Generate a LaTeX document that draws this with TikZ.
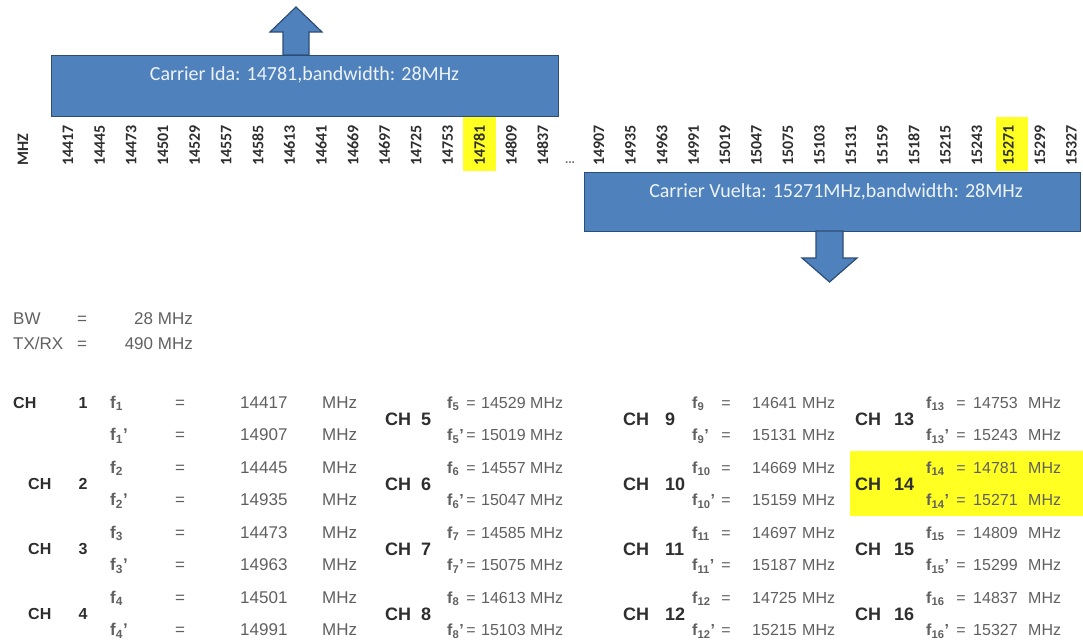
\documentclass[tikz,border=0pt]{standalone}
\usepackage{fontspec}
\setmainfont{Liberation Sans}
\newfontfamily\calib{Carlito}
\definecolor{boxblue}{HTML}{4F81BD}
\definecolor{boxedge}{HTML}{2C4D75}
\definecolor{hl}{HTML}{FFFF22}
\definecolor{txtgray}{HTML}{606060}
\definecolor{chgray}{HTML}{2E2E2E}
\newcommand{\fq}[1]{\textbf{f}\textsubscript{\textbf{#1}}}
\newcommand{\fqp}[1]{\textbf{f}\textsubscript{\textbf{#1}}\textbf{'}}
\begin{document}
\begin{tikzpicture}[x=1pt,y=-1pt,
  carrier/.style={draw=boxedge, fill=boxblue, line width=1.2pt},
  boxtext/.style={font=\calib\fontsize{20}{22}\selectfont, text=white!90!boxblue, inner sep=0},
  freqlbl/.style={font=\calib\bfseries\fontsize{16}{16}\selectfont, rotate=90, anchor=west, inner sep=0, text=black!82},
  hlbox/.style={fill=hl, draw=none},
  tsmall/.style={font=\fontsize{17}{17}\selectfont, text=txtgray, inner sep=0},
  tnorm/.style={font=\fontsize{16}{16}\selectfont, text=txtgray, inner sep=0},
  chsmall/.style={font=\bfseries\fontsize{16}{16}\selectfont, text=chgray, inner sep=0},
  chbig/.style={font=\bfseries\fontsize{18}{18}\selectfont, text=chgray, inner sep=0}
]
\useasboundingbox (0,0) rectangle (1083,640);

% ---------- carrier boxes and arrows ----------
\draw[carrier] (283,55) -- (283,32) -- (270,32) -- (296,7) -- (322,32) -- (309,32) -- (309,55) -- cycle;
\node[carrier, anchor=north west, minimum width=507pt, minimum height=61pt, inner sep=0] (ida) at (51,55) {};
\node[boxtext] (idatxt) at (304.5,75) {Carrier Ida: 14781,bandwidth: 28MHz};

\node[carrier, anchor=north west, minimum width=496pt, minimum height=59pt, inner sep=0] (vuelta) at (584,172) {};
\node[boxtext] (vueltatxt) at (836,192) {Carrier Vuelta: 15271MHz,bandwidth: 28MHz};
\draw[carrier] (816,231) -- (816,258) -- (802,258) -- (829.5,282) -- (857,258) -- (843,258) -- (843,231) -- cycle;

% ---------- frequency scale ----------
\fill[hlbox] (463,117) rectangle (496,171);
\fill[hlbox] (996,117) rectangle (1028,171);
\node[freqlbl] (mhz) at (23,166) {MHZ};
\foreach \f [count=\i from 0] in {14417,14445,14473,14501,14529,14557,14585,14613,14641,14669,14697,14725,14753,14781,14809,14837}
  \node[freqlbl] (la\i) at ({68+31.65*\i},166) {\f};
\node[font=\bfseries\fontsize{12}{12}\selectfont, text=black!55, inner sep=0] (dots) at (570,163) {...};
\foreach \f [count=\i from 0] in {14907,14935,14963,14991,15019,15047,15075,15103,15131,15159,15187,15215,15243,15271,15299,15327}
  \node[freqlbl] (lb\i) at ({599+31.5*\i},166) {\f};

% ---------- BW and TX/RX ----------
\node[tsmall, anchor=base west] (bw) at (13,324) {BW};
\node[tsmall, anchor=base] (bweq) at (82,324) {=};
\node[tsmall, anchor=base east] (bwv) at (193,324) {28 MHz};
\node[tsmall, anchor=base west] (txrx) at (13,349) {TX/RX};
\node[tsmall, anchor=base] (txeq) at (82,349) {=};
\node[tsmall, anchor=base east] (txv) at (193,349) {490 MHz};

% ---------- highlight CH 14 ----------
\fill[hlbox] (850,451) rectangle (1083,516);

% ---------- group 1: CH 1-4 ----------
\foreach \n in {1,...,4} {
  \pgfmathsetmacro\yf{402+65*(\n-1)}
  \pgfmathsetmacro\yg{\yf+32.5}
  \pgfmathtruncatemacro\fa{14417+28*(\n-1)}
  \pgfmathtruncatemacro\fb{\fa+490}
  \node[tsmall, anchor=base west] (fa\n) at (110,{\yf+6}) {\fq{\n}};
  \node[tsmall, anchor=base] (ea\n) at (180,{\yf+6}) {=};
  \node[tsmall, anchor=base west] (va\n) at (240,{\yf+6}) {\fa};
  \node[tsmall, anchor=base west] (ma\n) at (322,{\yf+6}) {MHz};
  \node[tsmall, anchor=base west] (fb\n) at (110,{\yg+6}) {\fqp{\n}};
  \node[tsmall, anchor=base] (eb\n) at (180,{\yg+6}) {=};
  \node[tsmall, anchor=base west] (vb\n) at (240,{\yg+6}) {\fb};
  \node[tsmall, anchor=base west] (mb\n) at (322,{\yg+6}) {MHz};
}
\node[chsmall, anchor=base west] (ch1) at (13,408) {CH};
\node[chsmall, anchor=base] (chn1) at (83,408) {1};
\foreach \n in {2,3,4} {
  \pgfmathsetmacro\yc{402+65*(\n-1)+16.25+6}
  \node[chsmall, anchor=base west] (ch\n) at (28,\yc) {CH};
  \node[chsmall, anchor=base] (chn\n) at (83,\yc) {\n};
}

% ---------- groups 2-4: CH 5-16 ----------
\foreach \g/\xch/\xnum/\xf/\xeq/\xv/\xm in {1/385/421/447/471/481/530, 2/623/665/692/726/752/802, 3/855/894/926/961/973/1028} {
  \foreach \k in {0,...,3} {
    \pgfmathtruncatemacro\n{4*\g+\k+1}
    \pgfmathsetmacro\yf{402+65*\k}
    \pgfmathsetmacro\yg{\yf+32.5}
    \pgfmathsetmacro\yc{\yf+16.25+7}
    \pgfmathtruncatemacro\fa{14417+28*(\n-1)}
    \pgfmathtruncatemacro\fb{\fa+490}
    \node[chbig, anchor=base west] (ch\n) at (\xch,\yc) {CH};
    \node[chbig, anchor=base west] (chn\n) at (\xnum,\yc) {\n};
    \node[tnorm, anchor=base west] (fa\n) at (\xf,{\yf+6}) {\fq{\n}};
    \node[tnorm, anchor=base] (ea\n) at (\xeq,{\yf+6}) {=};
    \node[tnorm, anchor=base west] (va\n) at (\xv,{\yf+6}) {\fa};
    \node[tnorm, anchor=base west] (ma\n) at (\xm,{\yf+6}) {MHz};
    \node[tnorm, anchor=base west] (fb\n) at (\xf,{\yg+6}) {\fqp{\n}};
    \node[tnorm, anchor=base] (eb\n) at (\xeq,{\yg+6}) {=};
    \node[tnorm, anchor=base west] (vb\n) at (\xv,{\yg+6}) {\fb};
    \node[tnorm, anchor=base west] (mb\n) at (\xm,{\yg+6}) {MHz};
  }
}
\end{tikzpicture}
\end{document}
